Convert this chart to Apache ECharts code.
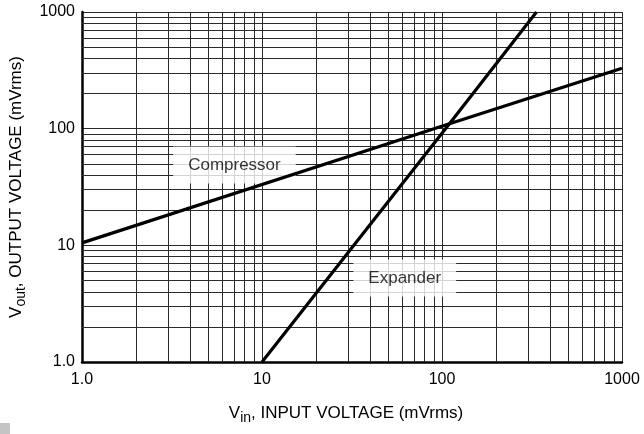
<!DOCTYPE html>
<html>
<head>
<meta charset="utf-8">
<script src="https://cdn.jsdelivr.net/npm/echarts@6/dist/echarts.min.js"></script>
<style>html,body{margin:0;padding:0;background:#fff}#c{width:644px;height:434px}</style>
</head>
<body>
<div id="c"></div>
<script>
// ---- data ----
const compressorVin  = [1, 110, 1000];
const compressorVout = [10.5, 110, 330];
const expanderVin    = [10, 110, 335];
const expanderVout   = [1, 110, 1000];
const majorTicks     = [1, 10, 100, 1000];
const tickLabels     = ['1.0', '10', '100', '1000'];
const minorGrid      = [2,3,4,5,6,7,8,9, 20,30,40,50,60,70,80,90, 200,300,400,500,600,700,800,900];
const curveNames     = ['Compressor', 'Expander'];

// ---- annotation anchors (data coords) ----
const labelAnchors = { Compressor: [7.03, 48.8], Expander: [62.1, 5.25] };

const FONT = 'Liberation Sans, Arial, Helvetica, sans-serif';
const GRID_COLOR = '#2a2a2a';
const TEXT = '#000';

function tickText(v) {
  const r = Math.round(v);
  const i = majorTicks.indexOf(r);
  return i >= 0 ? tickLabels[i] : '';
}

const chart = echarts.init(document.getElementById('c'), null, {renderer: 'canvas'});

const gridLineStyle = {color: GRID_COLOR, width: 1, type: 'solid'};

const option = {
  animation: false,
  backgroundColor: '#fff',
  grid: {left: 80, right: 22, top: 12, bottom: 72, containLabel: false},
  xAxis: {
    type: 'log', logBase: 10, min: 1, max: 1000,
    name: '{a|V}{b|in}{a|, INPUT VOLTAGE (mVrms)}',
    nameLocation: 'middle', nameGap: 39,
    nameTextStyle: {
      padding: [0, 12, 0, 0],
      rich: {
        a: {fontFamily: FONT, fontSize: 17, color: TEXT},
        b: {fontFamily: FONT, fontSize: 14, color: TEXT, padding: [10, 0, 0, 0]}
      }
    },
    axisLine: {show: true, lineStyle: {color: '#000', width: 2.5}},
    axisTick: {show: false},
    axisLabel: {formatter: tickText, fontFamily: FONT, fontSize: 16, color: TEXT, margin: 10},
    splitLine: {show: true, lineStyle: gridLineStyle},
    minorTick: {show: false}
  },
  yAxis: {
    type: 'log', logBase: 10, min: 1, max: 1000,
    name: '{a|V}{b|out}{a|, OUTPUT VOLTAGE (mVrms)}',
    nameLocation: 'middle', nameGap: 52, nameRotate: 90,
    nameTextStyle: {
      rich: {
        a: {fontFamily: FONT, fontSize: 17, color: TEXT},
        b: {fontFamily: FONT, fontSize: 14, color: TEXT, padding: [10, 0, 0, 0]}
      }
    },
    axisLine: {show: true, lineStyle: {color: '#000', width: 2.5}},
    axisTick: {show: false},
    axisLabel: {formatter: tickText, fontFamily: FONT, fontSize: 16, color: TEXT, margin: 7},
    splitLine: {show: true, lineStyle: gridLineStyle}
  },
  graphic: [{type: 'rect', left: 0, top: 423, shape: {width: 10, height: 11}, style: {fill: '#c4c4c4'}}],
  series: [
    {
      type: 'line', data: [], z: 1, silent: true,
      markLine: {
        z: 1, silent: true, symbol: ['none', 'none'], label: {show: false},
        lineStyle: gridLineStyle, animation: false,
        data: minorGrid.map(v => ({xAxis: v})).concat(minorGrid.map(v => ({yAxis: v})))
      }
    },
    {
      type: 'scatter', z: 3, symbolSize: 0, silent: true,
      data: curveNames.map(n => ({value: labelAnchors[n], name: n})),
      label: {
        show: true, position: 'inside', formatter: p => p.name,
        fontFamily: FONT, fontSize: 17, color: TEXT,
        backgroundColor: '#fff', padding: [10, 15, 10, 15]
      }
    },
    {
      name: curveNames[0], type: 'line', z: 8, symbol: 'none',
      data: compressorVin.map((x, i) => [x, compressorVout[i]]),
      lineStyle: {color: '#000', width: 3.2}
    },
    {
      name: curveNames[1], type: 'line', z: 8, symbol: 'none',
      data: expanderVin.map((x, i) => [x, expanderVout[i]]),
      lineStyle: {color: '#000', width: 3.2}
    }
  ]
};
chart.setOption(option);
</script>
</body>
</html>
